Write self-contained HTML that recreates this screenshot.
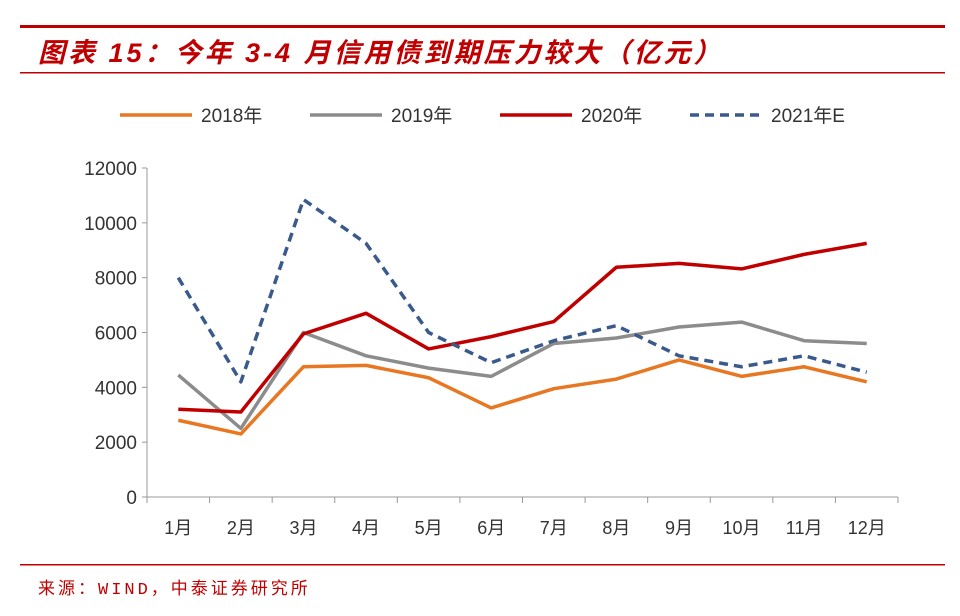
<!DOCTYPE html>
<html><head><meta charset="utf-8"><style>
body{margin:0;background:#fff;width:960px;height:611px;overflow:hidden;font-family:"Liberation Sans","Noto Sans CJK SC",sans-serif}
</style></head><body>
<svg width="960" height="611" viewBox="0 0 960 611" xmlns="http://www.w3.org/2000/svg">
<rect x="20" y="25" width="925" height="3" fill="#c00000"/>
<text x="38" y="62" font-size="27" letter-spacing="3" font-style="italic" font-weight="bold" fill="#c00000" font-family="'Liberation Sans','Noto Sans CJK SC',sans-serif">图表 15：今年 3-4 月信用债到期压力较大（亿元）</text>
<rect x="20" y="72" width="925" height="1.5" fill="#c00000"/>
<g id="legend"></g>
<g id="plot"></g>
<rect x="20" y="564" width="925" height="1.5" fill="#c00000"/>
<text x="38" y="594" font-size="17" letter-spacing="3" fill="#c00000" font-family="'Liberation Mono','Noto Sans CJK SC',monospace">来源：WIND，中泰证券研究所</text>
</svg>
<script>
const categories=["1月","2月","3月","4月","5月","6月","7月","8月","9月","10月","11月","12月"];
const yTicks=[0,2000,4000,6000,8000,10000,12000];
const seriesNames=["2018年","2019年","2020年","2021年E"];
const s2018=[2800,2300,4750,4800,4350,3250,3950,4300,5000,4400,4750,4200];
const s2019=[4450,2500,6000,5150,4700,4400,5600,5800,6200,6380,5700,5600];
const s2020=[3200,3100,5950,6700,5400,5850,6400,8380,8520,8320,8850,9250];
const s2021=[8000,4200,10850,9250,6000,4900,5700,6250,5150,4750,5150,4550];
const NS="http://www.w3.org/2000/svg";
const x0=147,x1=898,y0=497,y1=168,yMax=12000;
const band=(x1-x0)/categories.length;
const xS=i=>x0+band*(i+0.5);
const yS=v=>y0-(v/yMax)*(y0-y1);
const plot=document.getElementById('plot');
function mk(tag,attrs,parent){const e=document.createElementNS(NS,tag);for(const k in attrs)e.setAttribute(k,attrs[k]);parent.appendChild(e);return e;}
let ya=mk('line',{x1:x0,x2:x0,y1:y1,y2:y0,stroke:'#999','stroke-width':1},plot);


let xa=mk('line',{x1:x0,x2:x1,y1:y0,y2:y0,stroke:'#999','stroke-width':1},plot);


yTicks.forEach(v=>{
 let t=mk('line',{x1:x0-5,x2:x0,y1:yS(v),y2:yS(v),stroke:'#999'},plot);
 
 
 let l=mk('text',{x:x0-10,y:yS(v)+7,'text-anchor':'end','font-size':19,fill:'#333'},plot);
 l.textContent=v;
 
 
});
for(let i=0;i<=categories.length;i++){
 let t=mk('line',{x1:x0+band*i,x2:x0+band*i,y1:y0,y2:y0+6,stroke:'#999'},plot);
 
 
}
categories.forEach((c,i)=>{
 let l=mk('text',{x:xS(i),y:534,'text-anchor':'middle','font-size':18,fill:'#333'},plot);
 l.textContent=c;
 
 
});
const series=[[s2018,'#e87722',''],[s2019,'#8c8c8c',''],[s2020,'#c00000',''],[s2021,'#3a5a8c','9,6']];
series.forEach((s,k)=>{
 let p=mk('polyline',{points:s[0].map((v,i)=>xS(i)+','+yS(v)).join(' '),fill:'none',stroke:s[1],'stroke-width':3.5,'stroke-dasharray':s[2],'stroke-linejoin':'round'},plot);
 
 
});
const lg=document.getElementById('legend');
const lx=[120,310,500,690];
series.forEach((s,k)=>{
 let g=mk('g',{},lg);
 
 
 mk('line',{x1:lx[k],x2:lx[k]+72,y1:115,y2:115,stroke:s[1],'stroke-width':3.5,'stroke-dasharray':s[2]},g);
 let t=mk('text',{x:lx[k]+81,y:122,'font-size':19,fill:'#333'},g);
 t.textContent=seriesNames[k];
});
</script>
</body></html>
